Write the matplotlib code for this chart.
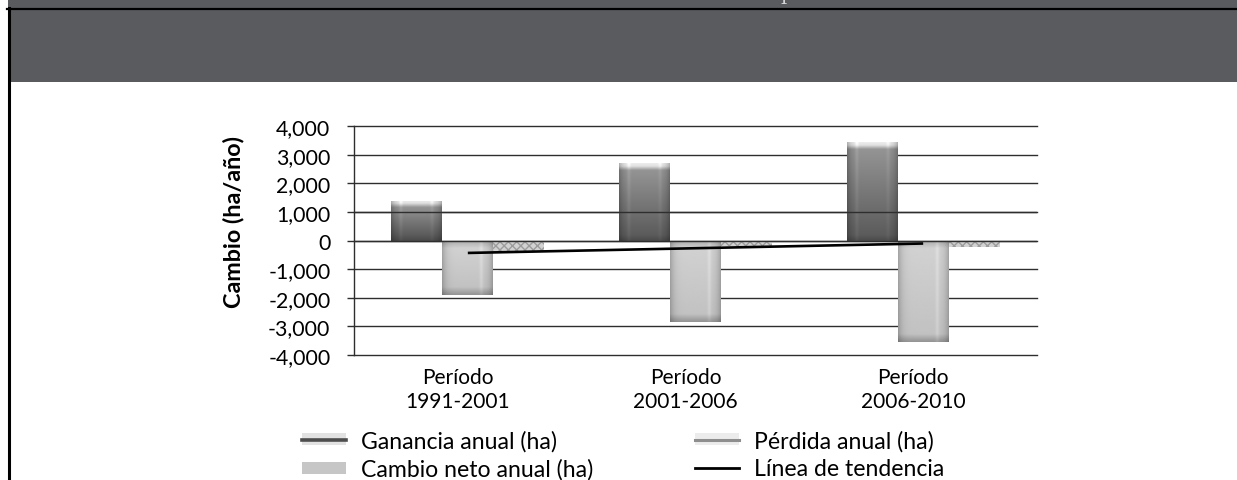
import numpy as np
import matplotlib
matplotlib.use('Agg')
import matplotlib.pyplot as plt
from matplotlib.patches import Patch, Rectangle
from matplotlib.lines import Line2D
from matplotlib.transforms import ScaledTranslation
from matplotlib.ticker import FuncFormatter
from matplotlib.legend_handler import HandlerTuple

# ---------------- data ----------------
categories = ['Período\n1991-2001', 'Período\n2001-2006', 'Período\n2006-2010']
ganancia = [1400, 2700, 3450]          # Ganancia anual (ha)
cambio_neto = [-1900, -2850, -3550]    # Cambio neto anual (ha)
perdida = [-400, -200, -230]           # Pérdida anual (ha)
tendencia = [-430, -265, -100]         # Línea de tendencia
yticks = [-4000, -3000, -2000, -1000, 0, 1000, 2000, 3000, 4000]
series_labels = ['Ganancia anual (ha)', 'Pérdida anual (ha)',
                 'Cambio neto anual (ha)', 'Línea de tendencia']
ylabel = 'Cambio (ha/año)'

# ---------------- layout ----------------
W, H = 1237, 481
FONT = 'Lato'
FS_Y = 15.3
FS_X = 15.0
FS_LEG = 16.6
plt.rcParams['font.family'] = [FONT, 'DejaVu Sans']

fig = plt.figure(figsize=(W / 100, H / 100), dpi=100)
fig.patch.set_facecolor('white')


def fbox(x0, ytop, w, h):
    return [x0 / W, 1 - (ytop + h) / H, w / W, h / H]


# header band
fig.patches.append(Rectangle((8 / W, 1 - 83 / H), 1 - 8 / W, 83 / H,
                             transform=fig.transFigure, facecolor='#5a5b5f',
                             edgecolor='none', zorder=0))
fig.add_artist(Line2D([7 / W, 1], [1 - 10 / H] * 2, color='black', lw=1.6,
                      transform=fig.transFigure, zorder=2))
fig.add_artist(Line2D([8.5 / W] * 2, [0, 1 - 9 / H], color='black', lw=2.2,
                      transform=fig.transFigure, zorder=2))
fig.text(787 / W, 1.0, 'p', family='DejaVu Serif', color='#d6d6d6',
         fontsize=14, ha='center', va='baseline')

ax = fig.add_axes(fbox(354, 127.3, 683, 228.7))
x = np.arange(len(categories))
bw = 0.224

b_g = ax.bar(x - bw, ganancia, bw, color='#6a6a6a', lw=0, zorder=2)
b_c = ax.bar(x, cambio_neto, bw, color='#c4c4c4', lw=0, zorder=2)
b_p = ax.bar(x + bw, perdida, bw, facecolor='#d2d2d2', edgecolor='#9c9c9c',
             hatch='xxxx', lw=0, zorder=2)

ax.set_xlim(-0.5, len(categories) - 0.5)
ax.set_ylim(yticks[0], yticks[-1])
px_per_unit = 228.7 / (yticks[-1] - yticks[0])


def shade(rect, stops_px, stripes, edge, zorder=2.5):
    x0, w = rect.get_x(), rect.get_width()
    y0, h = rect.get_y(), rect.get_height()
    ylo, yhi = min(y0, y0 + h), max(y0, y0 + h)
    hp = abs(h) * px_per_unit
    ny, nx = 300, 80
    t = np.linspace(0, 1, ny)
    pos = []
    vals = []
    for p, v in stops_px:
        f = p / hp if p >= 0 else 1 + p / hp
        pos.append(min(max(f, 0), 1))
        vals.append(v)
    order = np.argsort(pos, kind='stable')
    g = np.interp(t, np.array(pos)[order], np.array(vals)[order])[:, None]
    s = np.linspace(-1, 1, nx)[None, :]
    prof = 1 - edge * np.abs(s) ** 6
    for c, a in stripes:
        prof = prof + a * np.exp(-((s - c) / 0.07) ** 2)
    img = np.clip(g * prof, 0, 1)
    im = ax.imshow(img, cmap='gray', vmin=0, vmax=1,
                   extent=(x0, x0 + w, ylo, yhi), origin='upper',
                   aspect='auto', interpolation='bilinear', zorder=zorder)
    im.set_clip_path(rect)


for r in b_g:
    shade(r, [(0, 0.93), (3, 0.88), (7, 0.58), (-6, 0.36), (-1, 0.30)],
          [(-0.62, 0.10), (0.62, 0.08)], 0.25)
for r in b_c:
    shade(r, [(0, 0.60), (3, 0.72), (8, 0.82), (-8, 0.76), (-2, 0.62), (-0.01, 0.58)],
          [(0.55, 0.07)], 0.22)

ax.plot(x, tendencia, color='black', lw=1.9, zorder=4, solid_capstyle='butt')

ax.set_xlim(-0.5, len(categories) - 0.5)
ax.set_ylim(yticks[0], yticks[-1])

# grid / axes styling
gcol = '#2e2e2e'
ax.set_yticks(yticks)
ax.yaxis.set_major_formatter(FuncFormatter(lambda v, p: f'{int(v):,}'))
ax.yaxis.grid(True, color=gcol, lw=1.0, zorder=1)
for gl in ax.get_ygridlines():
    gl.set_clip_on(False)
for t in yticks:
    if t in (0, 1000):
        ax.axhline(t, color=gcol, lw=1.0, zorder=3.5)
ax.set_axisbelow(True)
for s in ['top', 'right', 'bottom']:
    ax.spines[s].set_visible(False)
ax.spines['left'].set_color(gcol)
ax.spines['left'].set_linewidth(1.0)
ax.tick_params(axis='y', length=5, width=1.0, color=gcol, pad=12,
               labelsize=FS_Y, labelcolor='black')
ax.set_xticks(x)
ax.set_xticklabels(categories, linespacing=1.2)
ax.tick_params(axis='x', length=0, pad=9, labelsize=FS_X)
for lab in ax.get_xticklabels():
    lab.set_transform(lab.get_transform() +
                      ScaledTranslation(-10 / 100, 0, fig.dpi_scale_trans))

fig.text(233 / W, 1 - 222 / H, ylabel, rotation=90, ha='center', va='center',
         fontsize=16.8, fontweight='bold')

# legend
h_g = (Patch(facecolor='#e2e2e2', edgecolor='none'),
       Line2D([], [], color='#4d4d4d', lw=2.6))
h_p = (Patch(facecolor='#ececec', edgecolor='none'),
       Line2D([], [], color='#8e8e8e', lw=2.2))
h_c = Patch(facecolor='#c6c6c6', edgecolor='none')
h_l = Line2D([], [], color='black', lw=2.0)
leg = fig.legend([h_g, h_c, h_p, h_l],
                 [series_labels[0], series_labels[2], series_labels[1], series_labels[3]],
                 ncol=2, frameon=False, loc='upper left',
                 bbox_to_anchor=(302 / W, 1 - 431 / H),
                 borderpad=0, borderaxespad=0, fontsize=FS_LEG,
                 handlelength=1.93, handleheight=0.4, handletextpad=0.64,
                 columnspacing=4.4, labelspacing=0.3,
                 handler_map={tuple: HandlerTuple(ndivide=1)})

fig.savefig('out.png', dpi=100)
